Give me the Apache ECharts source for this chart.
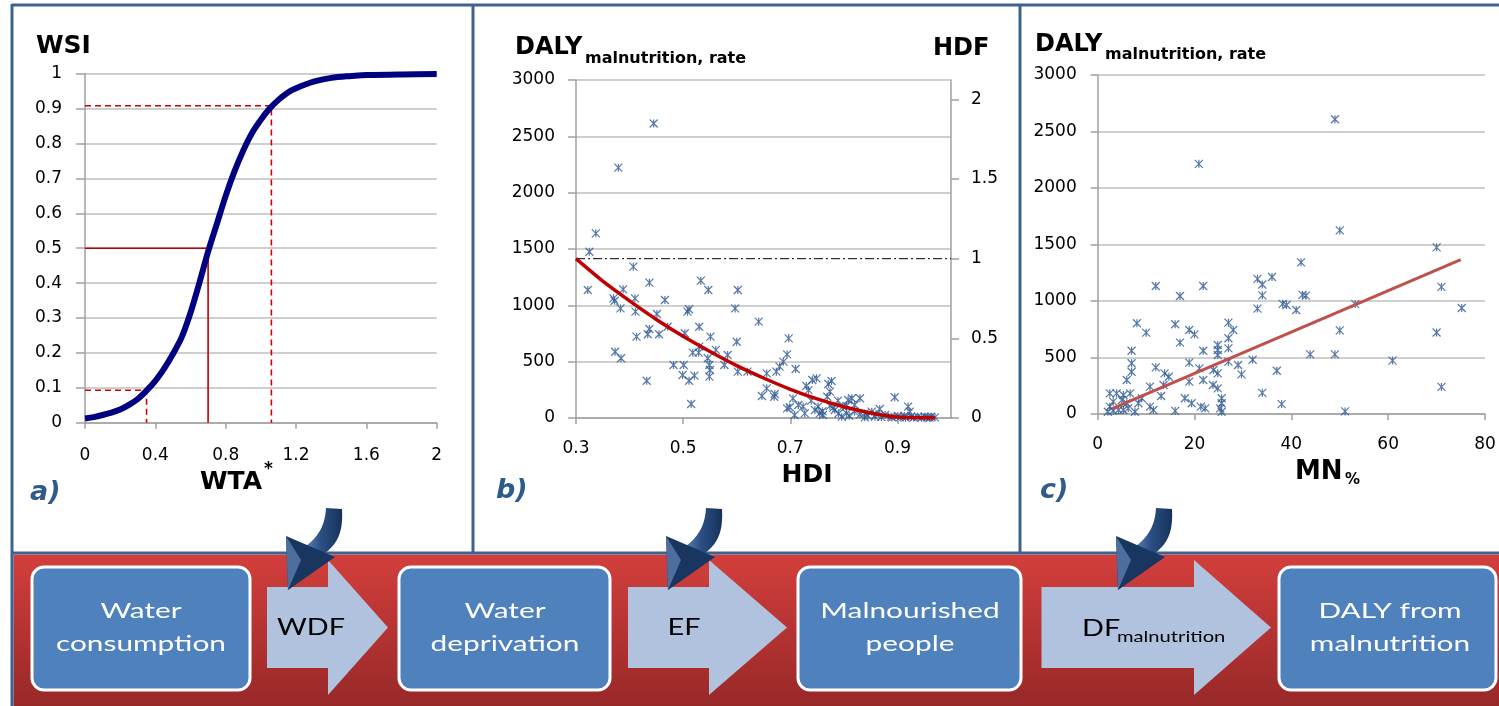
<!DOCTYPE html>
<html><head><meta charset="utf-8">
<script src="https://cdn.jsdelivr.net/npm/echarts@6/dist/echarts.min.js"></script>
<style>html,body{margin:0;padding:0;background:#fff}#c{width:1499px;height:706px}</style>
</head><body><div id="c"></div>
<script>
// ---------- Panel a: WSI vs WTA* ----------
const wtaX = [0,0.05,0.1,0.15,0.2,0.25,0.3,0.35,0.4,0.45,0.5,0.55,0.6,0.65,0.7,0.75,0.8,0.85,0.9,0.95,1.0,1.05,1.1,1.15,1.2,1.3,1.4,1.5,1.6,1.8,2.0];
const wsiY = [0.012,0.016,0.022,0.029,0.038,0.051,0.068,0.092,0.12,0.155,0.197,0.245,0.315,0.40,0.49,0.57,0.65,0.72,0.78,0.83,0.868,0.9,0.925,0.945,0.958,0.977,0.988,0.993,0.996,0.998,0.999];
const refSolid = [[0,0.5],[0.70,0.5],[0.70,0]];
const refDashLow = [[0,0.093],[0.35,0.093],[0.35,0]];
const refDashHigh = [[0,0.908],[1.06,0.908],[1.06,0]];

// ---------- Panel b: DALY vs HDI ----------
const hdiB = [0.445,0.379,
 0.337,0.325,0.407,0.322,0.437,0.533,0.547,0.602,0.388,0.370,0.372,0.410,0.411,0.383,0.466,0.511,0.508,0.597,0.451,0.641,0.530,0.437,0.434,0.413,0.455,0.471,0.551,0.600,0.503,0.373,0.384,0.518,0.530,0.529,0.561,0.583,0.546,0.482,0.501,0.549,0.577,0.550,0.549,0.499,0.521,0.511,0.432,0.515,0.602,0.620,0.647,
 0.697,0.694,0.687,0.680,0.674,0.710,0.656,0.656,0.671,0.670,0.730,0.734,0.749,0.741,0.771,0.777,0.774,0.769,0.705,0.699,0.694,0.708,0.724,0.752,0.755,0.739,0.789,0.798,0.808,0.815,0.830,0.783,0.805,0.820,0.839,0.852,0.867,0.877,0.895,0.920,0.923,0.901,0.913,0.926,0.938,0.951,0.963,0.970,0.858,0.839,0.888,0.796,0.761,0.746,0.715,0.727,0.820,0.774,0.805,
 0.760,0.780,0.790,0.810,0.830,0.845,0.860,0.870,0.890,0.905,0.915,0.930,0.945,0.955,0.960];
const dalyB = [2614,2222,
 1639,1476,1343,1136,1201,1219,1136,1136,1142,1062,1041,1062,944,973,1047,965,944,973,923,855,810,790,743,722,743,810,722,677,752,588,530,580,633,580,604,559,530,470,470,470,470,426,367,382,376,331,331,124,411,411,195,
 707,565,500,456,411,435,396,263,213,189,284,248,352,337,302,328,234,189,174,95,86,27,101,101,41,154,154,101,160,175,175,71,41,56,41,56,80,27,184,101,56,18,18,12,12,12,12,6,12,6,12,12,27,71,115,41,115,107,107,
 60,90,40,20,30,20,35,8,5,5,3,4,2,5,3];
const hdiCurveX = [0.3,0.35,0.4,0.45,0.5,0.55,0.6,0.65,0.7,0.75,0.8,0.85,0.9,0.95,0.97];
const hdiCurveY = [1414,1215,1040,875,725,590,465,355,255,170,100,45,8,2,2];
const hdfRefX = [0.3,1.0];
const hdfRefY = [1,1];
const hdiTicks = [0.3,0.5,0.7,0.9];
const hdfTicks = [0,0.5,1,1.5,2];

// ---------- Panel c: DALY vs MN% ----------
const mnC = [49.0,20.9,50.0,70.0,42.0,71.0,75.2,70.0,71.0,60.9,51.1,50.0,49.0,43.9,38.0,37.0,34.0,53.2,41.0,42.3,43.0,38.2,39.0,36.0,33.0,34.0,34.0,33.0,32.0,
 12.0,21.8,17.0,8.1,10.0,16.0,18.9,20.0,17.0,7.0,21.8,27.0,28.0,27.0,24.8,24.8,24.8,27.0,27.0,29.0,29.7,7.0,7.0,6.0,12.0,13.8,14.7,13.6,10.8,18.9,18.9,21.0,21.8,23.9,23.8,24.8,24.8,25.6,25.6,25.3,25.6,13.1,18.0,19.4,21.3,22.2,16.0,8.4,9.1,10.8,11.5,2.5,3.9,5.3,6.7,3.2,5.0,6.0,2.5,3.2,4.3,5.3,2.1,6.3,7.7];
const dalyC = [2608,2214,1625,1475,1342,1125,938,721,240,473,23,740,528,528,88,383,187,973,920,1054,1048,975,965,1212,1196,1146,1050,933,480,
 1133,1133,1044,803,720,794,743,705,631,560,560,808,743,670,611,566,522,581,463,434,351,449,374,301,413,360,330,257,242,454,286,404,301,389,257,360,227,139,95,50,20,159,139,95,65,50,27,95,139,65,35,183,183,168,183,109,124,95,65,29,35,35,20,50,20];
const trendCX = [3,75];
const trendCY = [47,1366];
</script>
<script>
const FF = 'DejaVu Sans';
const GRIDC = '#BFBFBF', AXC = '#A0A0A0';
const zip = (a,b)=>a.map((v,i)=>[v,b[i]]);
const starSym = 'path://M0,0L10,10M10,0L0,10M5,0L5,10';
const MK = '#2D5791';
const plain = v => String(+v.toFixed(4));

function axBase(extra){
  return Object.assign({
    type:'value',
    axisLine:{show:true,onZero:false,lineStyle:{color:AXC,width:1.5}},
    axisTick:{show:true,inside:false,lineStyle:{color:AXC,width:1.5}},
    axisLabel:{fontFamily:FF,fontSize:17,color:'#000',formatter:plain},
    splitLine:{show:false}
  }, extra);
}
function lab(margin, extra){
  return Object.assign({fontFamily:FF,fontSize:17,color:'#000',margin:margin,formatter:plain}, extra||{});
}
function T(x,y,text,o){
  o=o||{};
  return {type:'text', x:x, y:y, z:o.z||50, scaleX:o.sx||1, scaleY:1,
    style:{text:text, fill:o.color||'#000', fontFamily:o.ff||FF, fontSize:o.size||24,
      fontWeight:o.bold===false?'normal':'bold', fontStyle:o.italic?'italic':'normal',
      align:o.align||'left', textAlign:o.align||'left', verticalAlign:'middle', textVerticalAlign:'middle'}};
}
// sample a cubic bezier (decorative shape outline only)
function bez(p0,p1,p2,p3,n){
  const out=[];
  for(let i=1;i<=n;i++){const t=i/n,u=1-t;
    out.push([u*u*u*p0[0]+3*u*u*t*p1[0]+3*u*t*t*p2[0]+t*t*t*p3[0],
              u*u*u*p0[1]+3*u*u*t*p1[1]+3*u*t*t*p2[1]+t*t*t*p3[1]]);}
  return out;
}
const LF = 'Lato';
const boxFill = '#4F81BD', arrowFill = '#B1C2DE', borderC = '#3F6290';

const graphics = [
  {type:'rect', z:1, shape:{x:13.5,y:554.5,width:1486,height:152},
    style:{fill:{type:'linear',x:0,y:0,x2:0,y2:1,colorStops:[{offset:0,color:'#D23F3C'},{offset:1,color:'#982828'}]}}},
  {type:'line', z:5, shape:{x1:12,y1:5,x2:1499,y2:5}, style:{stroke:borderC,lineWidth:3}},
  {type:'line', z:5, shape:{x1:12,y1:4,x2:12,y2:706}, style:{stroke:borderC,lineWidth:3}},
  {type:'line', z:5, shape:{x1:473,y1:5,x2:473,y2:553}, style:{stroke:borderC,lineWidth:3}},
  {type:'line', z:5, shape:{x1:1020,y1:5,x2:1020,y2:553}, style:{stroke:borderC,lineWidth:3}},
  {type:'line', z:5, shape:{x1:12,y1:553,x2:1499,y2:553}, style:{stroke:borderC,lineWidth:3}},
  // flow boxes
  {type:'rect', z:10, shape:{x:32,y:567,width:218,height:123,r:12}, style:{fill:boxFill,stroke:'#fff',lineWidth:3}},
  {type:'rect', z:10, shape:{x:399,y:567,width:211,height:123,r:12}, style:{fill:boxFill,stroke:'#fff',lineWidth:3}},
  {type:'rect', z:10, shape:{x:798,y:567,width:223,height:123,r:12}, style:{fill:boxFill,stroke:'#fff',lineWidth:3}},
  {type:'rect', z:10, shape:{x:1279,y:567,width:217,height:123,r:12}, style:{fill:boxFill,stroke:'#fff',lineWidth:3}},
  // flow arrows
  {type:'polygon', z:10, shape:{points:[[267,587],[328,587],[328,560],[388,627.5],[328,695],[328,668],[267,668]]}, style:{fill:arrowFill}},
  {type:'polygon', z:10, shape:{points:[[628,587],[709,587],[709,560],[787,627.5],[709,695],[709,668],[628,668]]}, style:{fill:arrowFill}},
  {type:'polygon', z:10, shape:{points:[[1041.5,587],[1194,587],[1194,560],[1271,627.5],[1194,695],[1194,668],[1041.5,668]]}, style:{fill:arrowFill}},
  // box texts
  T(141,611.5,'Water',{ff:LF,size:21,bold:false,color:'#fff',align:'center',sx:1.42}),
  T(141,644,'consumption',{ff:LF,size:21,bold:false,color:'#fff',align:'center',sx:1.42}),
  T(505,611.5,'Water',{ff:LF,size:21,bold:false,color:'#fff',align:'center',sx:1.42}),
  T(505,644,'deprivation',{ff:LF,size:21,bold:false,color:'#fff',align:'center',sx:1.42}),
  T(910,611.5,'Malnourished',{ff:LF,size:21,bold:false,color:'#fff',align:'center',sx:1.42}),
  T(910,644,'people',{ff:LF,size:21,bold:false,color:'#fff',align:'center',sx:1.42}),
  T(1390,611.5,'DALY from',{ff:LF,size:21,bold:false,color:'#fff',align:'center',sx:1.42}),
  T(1390,644,'malnutrition',{ff:LF,size:21,bold:false,color:'#fff',align:'center',sx:1.42}),
  // arrow texts
  T(311,627,'WDF',{ff:LF,size:24,bold:false,align:'center',sx:1.2}),
  T(684,627,'EF',{ff:LF,size:24,bold:false,align:'center',sx:1.2}),
  T(1082,628,'DF',{ff:LF,size:24,bold:false,sx:1.2}),
  T(1117,637,'malnutrition',{ff:LF,size:16,bold:false,sx:1.26}),
  // panel titles
  T(36,46,'WSI',{size:25}),
  T(200,482,'WTA',{size:25}),
  T(264,470,'*',{size:17}),
  T(30,493,'a)',{size:27,italic:true,color:'#2E5A8C'}),
  T(515,48,'DALY',{size:24}),
  T(585,59,'malnutrition, rate',{size:16}),
  T(933,49,'HDF',{size:24}),
  T(807,475,'HDI',{size:25,align:'center'}),
  T(496,491,'b)',{size:27,italic:true,color:'#2E5A8C'}),
  T(1035,45,'DALY',{size:24}),
  T(1105,55,'malnutrition, rate',{size:16}),
  T(1295,472,'MN',{size:26}),
  T(1345,480,'%',{size:15}),
  T(1040,491,'c)',{size:27,italic:true,color:'#2E5A8C'})
];
// curved dark arrows (same shape, shifted)
const tailPts = [[326,508],[342,509]]
  .concat(bez([342,509],[343,528],[340,542],[325,553],12))
  .concat([[306,546]])
  .concat(bez([306,546],[319,536],[325,525],[326,508],12));
[0,380,830].forEach(dx=>{
  graphics.push({type:'polygon', z:60, x:dx, y:0, shape:{points:tailPts},
    style:{fill:{type:'linear',x:0,y:0,x2:1,y2:0,colorStops:[{offset:0,color:'#5B7EB1'},{offset:0.4,color:'#2C5085'},{offset:1,color:'#16325A'}]}}});
  graphics.push({type:'polygon', z:61, x:dx, y:0, shape:{points:[[286,536],[335,557],[288,590]]}, style:{fill:'#18365F'}});
  graphics.push({type:'polygon', z:62, x:dx, y:0, shape:{points:[[286,536],[301,560],[288,590]]}, style:{fill:'#4E6E9F'}});
});

const option = {
  animation:false,
  backgroundColor:'#fff',
  grid:[
    {left:85, top:73.7, width:351.7, height:349, containLabel:false},
    {left:576, top:80, width:375, height:338, containLabel:false},
    {left:1097.7, top:75, width:387.3, height:339, containLabel:false}
  ],
  xAxis:[
    axBase({gridIndex:0, min:0, max:2, interval:0.4,
      axisTick:{show:true,length:6,lineStyle:{color:AXC,width:1.5}},
      axisLabel:lab(24)}),
    axBase({gridIndex:1, min:0.3, max:1.0, interval:0.2,
      axisTick:{show:true,length:6,lineStyle:{color:AXC,width:1.5},customValues:hdiTicks},
      axisLabel:lab(22,{customValues:hdiTicks, formatter:v=>v.toFixed(1)})}),
    axBase({gridIndex:2, min:0, max:80, interval:20,
      axisTick:{show:true,length:6,lineStyle:{color:AXC,width:1.5}},
      axisLabel:lab(22)})
  ],
  yAxis:[
    axBase({gridIndex:0, min:0, max:1, interval:0.1,
      axisTick:{show:true,length:9,lineStyle:{color:AXC,width:1.5}},
      axisLabel:lab(23),
      splitLine:{show:true,lineStyle:{color:GRIDC,width:1.5}}}),
    axBase({gridIndex:1, min:0, max:3000, interval:500,
      axisTick:{show:true,length:8,lineStyle:{color:AXC,width:1.5}},
      axisLabel:lab(21),
      splitLine:{show:true,lineStyle:{color:GRIDC,width:1.5}}}),
    axBase({gridIndex:1, position:'right', min:0, max:2.1216,
      axisTick:{show:true,length:8,lineStyle:{color:AXC,width:1.5},customValues:hdfTicks},
      axisLabel:lab(20,{customValues:hdfTicks})}),
    axBase({gridIndex:2, min:0, max:3000, interval:500,
      axisTick:{show:true,length:7,lineStyle:{color:AXC,width:1.5}},
      axisLabel:lab(21),
      splitLine:{show:true,lineStyle:{color:GRIDC,width:1.5}}})
  ],
  series:[
    {type:'line', xAxisIndex:0, yAxisIndex:0, data:refSolid, showSymbol:false, silent:true, z:3,
      lineStyle:{color:'#C00000',width:1.6}},
    {type:'line', xAxisIndex:0, yAxisIndex:0, data:refDashLow, showSymbol:false, silent:true, z:3,
      lineStyle:{color:'#D00000',width:1.6,type:[6,4]}},
    {type:'line', xAxisIndex:0, yAxisIndex:0, data:refDashHigh, showSymbol:false, silent:true, z:3,
      lineStyle:{color:'#D00000',width:1.6,type:[6,4]}},
    {type:'line', xAxisIndex:0, yAxisIndex:0, data:zip(wtaX,wsiY), smooth:0.3, showSymbol:false, z:5,
      lineStyle:{color:'#000080',width:6}},
    {type:'scatter', xAxisIndex:1, yAxisIndex:1, data:zip(hdiB,dalyB), symbol:starSym, symbolSize:8, z:3,
      itemStyle:{color:'rgba(0,0,0,0)',borderColor:MK,borderWidth:1.2}},
    {type:'line', xAxisIndex:1, yAxisIndex:2, data:zip(hdfRefX,hdfRefY), showSymbol:false, z:4,
      lineStyle:{color:'#000',width:1,type:[9,3,2,3]}},
    {type:'line', xAxisIndex:1, yAxisIndex:1, data:zip(hdiCurveX,hdiCurveY), smooth:0.3, showSymbol:false, z:5,
      lineStyle:{color:'#C00000',width:3.5}},
    {type:'scatter', xAxisIndex:2, yAxisIndex:3, data:zip(mnC,dalyC), symbol:starSym, symbolSize:8, z:3,
      itemStyle:{color:'rgba(0,0,0,0)',borderColor:MK,borderWidth:1.2}},
    {type:'line', xAxisIndex:2, yAxisIndex:3, data:zip(trendCX,trendCY), showSymbol:false, z:5,
      lineStyle:{color:'#C0504D',width:3}}
  ],
  graphic:{elements:graphics}
};
const chart = echarts.init(document.getElementById('c'), null, {renderer:'canvas'});
chart.setOption(option);
</script>
</body></html>
